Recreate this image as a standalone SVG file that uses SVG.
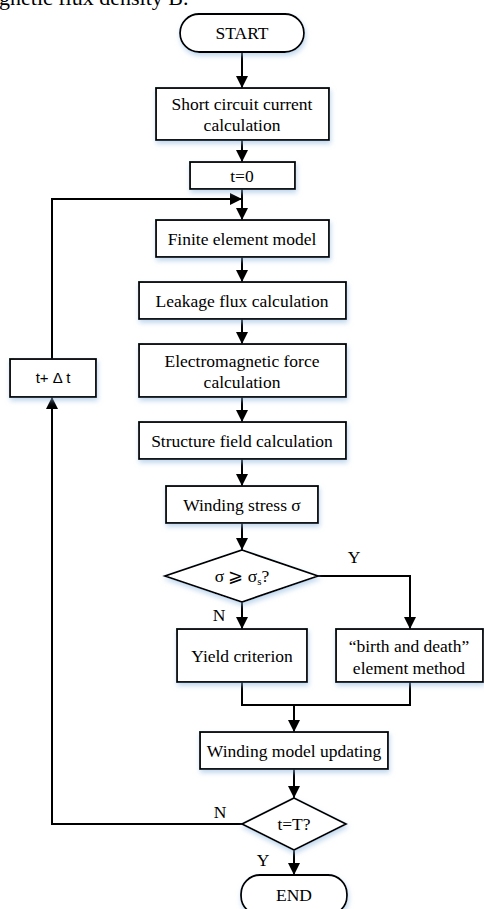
<svg xmlns="http://www.w3.org/2000/svg" width="484" height="909" viewBox="0 0 484 909">
<style>
.box{fill:#fff;stroke:#000;stroke-width:1.8;filter:url(#sh)}
.t{font-family:"Liberation Serif","Times New Roman",serif;font-size:17.5px;fill:#000;text-anchor:middle}
.s{font-family:"Liberation Sans",Arial,sans-serif;font-size:15px;fill:#000;text-anchor:middle}
.ln{fill:none;stroke:#000;stroke-width:2}
</style>
<defs>
<filter id="sh" x="-20%" y="-30%" width="140%" height="170%">
<feDropShadow dx="1" dy="3" stdDeviation="2.5" flood-color="#8fb8e0" flood-opacity="0.55"/>
</filter>
<marker id="ah" viewBox="0 0 12 12" refX="12" refY="6" markerWidth="12" markerHeight="12" markerUnits="userSpaceOnUse" orient="auto">
<path d="M0,0 L12,6 L0,12 Z" fill="#000"/>
</marker>
</defs>
<rect width="484" height="909" fill="#fff"/>
<text x="-1" y="5" style="font-family:'Liberation Serif',serif;font-size:22px">gnetic flux density B.</text>
<g id="connectors">
<line class="ln" x1="242" y1="52" x2="242" y2="88" marker-end="url(#ah)"/>
<line class="ln" x1="242" y1="140" x2="242" y2="162" marker-end="url(#ah)"/>
<line class="ln" x1="242" y1="189" x2="242" y2="220" marker-end="url(#ah)"/>
<line class="ln" x1="242" y1="257" x2="242" y2="282" marker-end="url(#ah)"/>
<line class="ln" x1="242" y1="319" x2="242" y2="344" marker-end="url(#ah)"/>
<line class="ln" x1="242" y1="397" x2="242" y2="422" marker-end="url(#ah)"/>
<line class="ln" x1="242" y1="459" x2="242" y2="486" marker-end="url(#ah)"/>
<line class="ln" x1="242" y1="523" x2="242" y2="550" marker-end="url(#ah)"/>
<line class="ln" x1="242" y1="602" x2="242" y2="629" marker-end="url(#ah)"/>
<polyline class="ln" points="318,576 410,576 410,629" marker-end="url(#ah)"/>
<polyline class="ln" points="242,682 242,705 410,705 410,682"/>
<line class="ln" x1="294" y1="705" x2="294" y2="732" marker-end="url(#ah)"/>
<line class="ln" x1="294" y1="769" x2="294" y2="798" marker-end="url(#ah)"/>
<line class="ln" x1="294" y1="850" x2="294" y2="875" marker-end="url(#ah)"/>
<polyline class="ln" points="242,824 52,824 52,397" marker-end="url(#ah)"/>
<polyline class="ln" points="52,359 52,199 242,199" marker-end="url(#ah)"/>
<text x="219" y="621" class="t">N</text>
<text x="354" y="563" class="t">Y</text>
<text x="220" y="818" class="t">N</text>
<text x="263" y="866" class="t">Y</text>
</g>
<g id="start"><rect class="box" x="180" y="14" width="124" height="38" rx="19"/><text x="242" y="39" class="t">START</text></g>
<g id="short"><rect class="box" x="156" y="88" width="173" height="52"/><text x="242" y="110" class="t">Short circuit current</text><text x="242" y="131" class="t">calculation</text></g>
<g id="t0"><rect class="box" x="190" y="162" width="105" height="27"/><text x="242" y="182" class="t">t=0</text></g>
<g id="fem"><rect class="box" x="156" y="220" width="173" height="37"/><text x="242" y="245" class="t">Finite element model</text></g>
<g id="leak"><rect class="box" x="139" y="282" width="207" height="37"/><text x="242" y="307" class="t">Leakage flux calculation</text></g>
<g id="emf"><rect class="box" x="139" y="344" width="207" height="53"/><text x="242" y="367" class="t">Electromagnetic force</text><text x="242" y="388" class="t">calculation</text></g>
<g id="struct"><rect class="box" x="139" y="422" width="207" height="37"/><text x="242" y="447" class="t">Structure field calculation</text></g>
<g id="stress"><rect class="box" x="166" y="486" width="152" height="37"/><text x="242" y="511" class="t">Winding stress  σ</text></g>
<g id="cond1"><polygon class="box" points="242,550 318,576 242,602 165,576"/><text x="242" y="582" class="t">σ ⩾ σ<tspan font-size="11" dy="3">s</tspan><tspan dy="-3">?</tspan></text></g>
<g id="yield"><rect class="box" x="177" y="629" width="130" height="53"/><text x="242" y="662" class="t">Yield criterion</text></g>
<g id="birth"><rect class="box" x="336" y="629" width="147" height="53"/><text x="409" y="652" class="t">“birth and death”</text><text x="409" y="674" class="t">element method</text></g>
<g id="update"><rect class="box" x="200" y="732" width="188" height="37"/><text x="294" y="757" class="t">Winding model updating</text></g>
<g id="cond2"><polygon class="box" points="294,798 346,824 294,850 242,824"/><text x="294" y="830" class="t">t=T?</text></g>
<g id="dt"><rect class="box" x="10" y="359" width="86" height="38"/><text x="53" y="383" class="s">t+ Δ t</text></g>
<g id="end"><rect class="box" x="241" y="875" width="106" height="40" rx="19"/><text x="294" y="901" class="t">END</text></g>
</svg>
